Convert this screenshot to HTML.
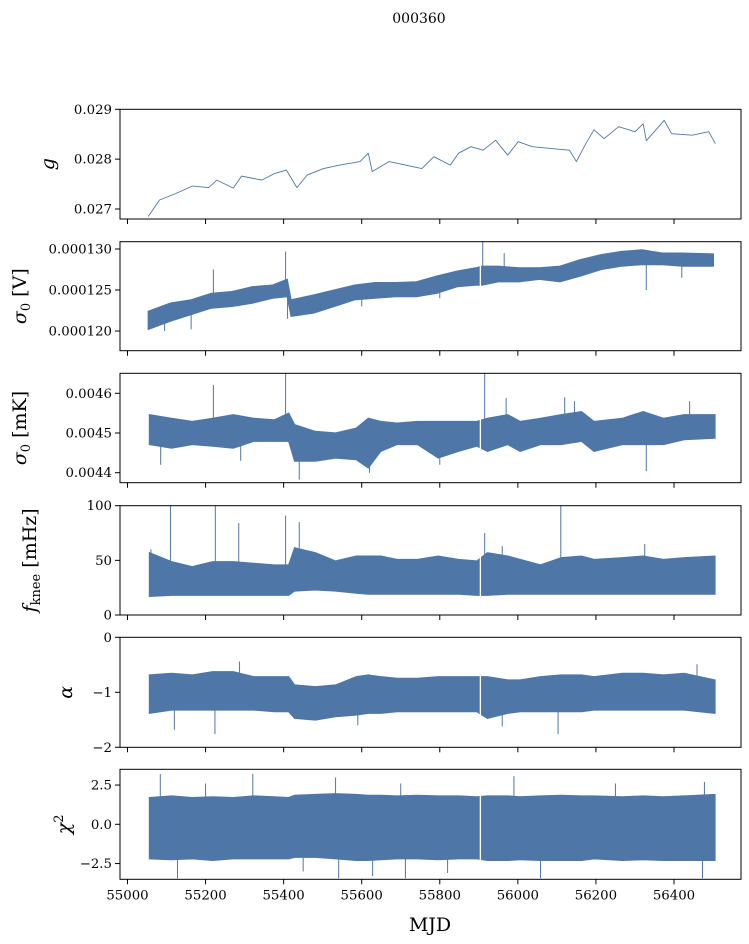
<!DOCTYPE html>
<html><head><meta charset="utf-8"><style>
html,body{margin:0;padding:0;background:#fff;}
svg{display:block;font-family:"DejaVu Serif","Liberation Serif",serif;}
</style></head><body>
<svg id="fig" width="749" height="944" viewBox="0 0 749 944" xmlns="http://www.w3.org/2000/svg">
<rect width="749" height="944" fill="#fff"/>
<text x="419" y="23" font-size="14" text-anchor="middle">000360</text>
<text x="430" y="931" font-size="19" text-anchor="middle">MJD</text>
<g id="plots"></g>
</svg>
<script>
// ---------- data ----------
const xTicks = [55000,55200,55400,55600,55800,56000,56200,56400];
const gMjd = [55053,55082,55124,55166,55208,55229,55271,55292,55344,55376,55407,55434,55460,55502,55544,55596,55617,55627,55670,55712,55754,55785,55827,55848,55880,55911,55943,55974,56001,56037,56090,56132,56150,56174,56195,56221,56258,56300,56321,56329,56353,56375,56394,56447,56489,56506];
const gVal = [0.02685,0.02718,0.02731,0.02746,0.02743,0.02758,0.02742,0.02766,0.02758,0.02771,0.02778,0.02743,0.02768,0.02781,0.02788,0.02795,0.02812,0.02775,0.02795,0.02788,0.02781,0.02805,0.02788,0.02812,0.02825,0.02818,0.02838,0.02808,0.02835,0.02825,0.02821,0.02818,0.02795,0.02831,0.02859,0.02841,0.02865,0.02855,0.02871,0.02837,0.02858,0.02878,0.02851,0.02848,0.02855,0.02831];

const mjdA = [55053,55110,55163,55215,55268,55320,55372,55409,55419,55477,55530,55582,55634,55687,55740,55792,55845,55892,55908,55950,56003,56055,56108,56160,56213,56265,56318,56370,56422,56501];
const hiV = [122.4,123.4,123.8,124.6,124.8,125.4,125.6,126.3,123.8,124.4,125.0,125.6,125.9,125.9,126.0,126.7,127.3,127.7,127.9,127.9,127.7,127.7,127.9,128.7,129.3,129.7,129.9,129.5,129.5,129.4];
const loV = [120.2,121.2,122.0,122.8,123.0,123.4,124.0,124.2,121.8,122.2,123.0,123.8,124.0,124.2,124.2,124.6,125.4,125.6,125.6,126.0,126.0,126.3,126.0,126.7,127.5,127.9,128.1,128.1,127.9,127.9];
const spikeMjdV = [55163,55220,55285,55405,55410,55910,55965,56329,56420,55095,55600,55800];
const spikeValV = [120.2,127.5,123.0,129.7,121.5,131.2,129.5,125.0,126.5,120.0,123.0,124.0];

const mjdB = [55056,55113,55166,55218,55271,55323,55376,55413,55428,55481,55533,55586,55617,55649,55691,55743,55796,55848,55895,55922,55974,56006,56058,56111,56163,56195,56268,56321,56373,56426,56505];
const hiK = [4.546,4.537,4.529,4.537,4.546,4.537,4.533,4.55,4.521,4.504,4.5,4.512,4.537,4.529,4.525,4.529,4.529,4.529,4.529,4.537,4.546,4.529,4.537,4.546,4.554,4.529,4.537,4.554,4.537,4.546,4.546];
const loK = [4.471,4.462,4.471,4.467,4.462,4.479,4.479,4.479,4.429,4.429,4.437,4.433,4.412,4.454,4.471,4.471,4.437,4.454,4.467,4.454,4.471,4.454,4.471,4.471,4.479,4.454,4.471,4.471,4.471,4.483,4.487];
const spikeMjdK = [55220,55405,55915,55440,56329,55970,55085,55290,56145,56120,56440,55620,55800];
const spikeValK = [4.621,4.66,4.66,4.383,4.404,4.588,4.42,4.43,4.58,4.59,4.58,4.40,4.42];

const hiF = [57.0,48.8,44.2,48.8,48.8,47.3,45.7,45.7,61.5,57.0,49.4,53.9,53.9,53.9,50.8,50.8,53.9,50.8,49.4,57.0,53.9,50.8,45.7,52.4,53.9,50.8,52.4,53.9,50.8,52.4,53.9];
const loF = [17,18,18,18,18,18,18,18,22,23,22,20,19,19,19,19,19,19,18,18,19,19,19,19,19,19,19,19,19,19,19];
const spikeMjdF = [55110,55225,55285,55405,55440,55915,56110,55060,55960,56325];
const spikeValF = [100,100,84,91,85,75,100,60,63,65];

const hiA = [-0.685,-0.655,-0.685,-0.625,-0.625,-0.716,-0.716,-0.716,-0.867,-0.898,-0.867,-0.716,-0.685,-0.716,-0.746,-0.746,-0.716,-0.716,-0.716,-0.716,-0.776,-0.776,-0.716,-0.685,-0.685,-0.716,-0.655,-0.655,-0.685,-0.655,-0.776];
const loA = [-1.382,-1.321,-1.321,-1.321,-1.321,-1.321,-1.352,-1.352,-1.473,-1.503,-1.443,-1.412,-1.382,-1.382,-1.352,-1.352,-1.352,-1.352,-1.352,-1.473,-1.382,-1.352,-1.352,-1.352,-1.352,-1.321,-1.321,-1.321,-1.321,-1.321,-1.382];
const spikeMjdA = [55224,55287,55120,56103,56459,55590,55960];
const spikeValA = [-1.76,-0.44,-1.68,-1.76,-0.49,-1.6,-1.62];

const hiC = [1.7,1.8,1.7,1.75,1.7,1.8,1.75,1.7,1.85,1.9,1.95,1.9,1.85,1.85,1.8,1.85,1.8,1.8,1.75,1.8,1.8,1.75,1.8,1.85,1.8,1.8,1.75,1.8,1.75,1.8,1.9];
const loC = [-2.2,-2.25,-2.2,-2.3,-2.2,-2.2,-2.2,-2.2,-2.1,-2.1,-2.2,-2.3,-2.3,-2.25,-2.2,-2.2,-2.25,-2.2,-2.2,-2.3,-2.3,-2.25,-2.3,-2.3,-2.3,-2.2,-2.3,-2.25,-2.3,-2.3,-2.3];
const spikeMjdC = [55084,55321,55990,56478,55533,55128,55541,55712,56058,56473,55628,55200,55700,56250,55450,55820];
const spikeValC = [3.2,3.2,3.07,2.7,2.98,-3.44,-3.44,-3.44,-3.44,-3.44,-3.3,2.6,2.6,2.6,-3.0,-3.1];

const gaps = [55904];

// ---------- layout ----------
const X0 = 120, X1 = 741;
function xs(v){ return 127.5 + (v - 55000) * 0.39035; }
const COLOR = "#4e76a6";
const NS = "http://www.w3.org/2000/svg";
const root = document.getElementById('plots');
function mk(tag, attrs, parent){
  const e = document.createElementNS(NS, tag);
  for (const k in attrs) e.setAttribute(k, attrs[k]);
  (parent || root).appendChild(e);
  return e;
}
function interp(arr, mj, v){
  if (v <= mj[0]) return arr[0];
  for (let i = 1; i < mj.length; i++) if (v <= mj[i]) {
    const t = (v - mj[i-1]) / (mj[i] - mj[i-1]); return arr[i-1] + t * (arr[i] - arr[i-1]);
  }
  return arr[arr.length-1];
}

const panels = [
  {name:'gain', top:109.3, bot:219, vTop:0.029, vBot:0.0267994, ticks:[0.027,0.028,0.029], labels:['0.027','0.028','0.029'], ylab:'g', ylx:48},
  {name:'sigma0-volts', top:241.7, bot:350.7, vTop:130.89, vBot:117.60, ticks:[120,125,130], labels:['0.000120','0.000125','0.000130'], ylab:'s0V', ylx:20, mj:mjdA, hi:hiV, lo:loV, sm:spikeMjdV, sv:spikeValV},
  {name:'sigma0-mk', top:373.3, bot:482.7, vTop:4.6504, vBot:4.3748, ticks:[4.4,4.5,4.6], labels:['0.0044','0.0045','0.0046'], ylab:'s0K', ylx:20, mj:mjdB, hi:hiK, lo:loK, sm:spikeMjdK, sv:spikeValK},
  {name:'fknee', top:505.7, bot:615, vTop:100, vBot:0, ticks:[0,50,100], labels:['0','50','100'], ylab:'fk', ylx:30, mj:mjdB, hi:hiF, lo:loF, sm:spikeMjdF, sv:spikeValF},
  {name:'alpha', top:637.3, bot:747.3, vTop:0, vBot:-2, ticks:[-2,-1,0], labels:['\u22122','\u22121','0'], ylab:'a', ylx:66, mj:mjdB, hi:hiA, lo:loA, sm:spikeMjdA, sv:spikeValA},
  {name:'chi2', top:769.3, bot:879.3, vTop:3.503, vBot:-3.503, ticks:[-2.5,0,2.5], labels:['\u22122.5','0.0','2.5'], ylab:'c', ylx:64, mj:mjdB, hi:hiC, lo:loC, sm:spikeMjdC, sv:spikeValC}
];

panels.forEach((p, idx) => {
  const ys = v => p.top + (p.vTop - v) / (p.vTop - p.vBot) * (p.bot - p.top);
  const g = mk('g', {});
  
  
  const clipId = 'clip' + idx;
  const cp = mk('clipPath', {id: clipId}, g);
  mk('rect', {x: X0, y: p.top, width: X1 - X0, height: p.bot - p.top}, cp);
  const dg = mk('g', {'clip-path': 'url(#' + clipId + ')'}, g);
  
  

  if (idx === 0) {
    const pts = gMjd.map((m, i) => xs(m).toFixed(1) + ',' + ys(gVal[i]).toFixed(1)).join(' ');
    const ln = mk('polyline', {points: pts, fill: 'none', stroke: COLOR, 'stroke-width': 0.9, 'stroke-linejoin': 'round'}, dg);
    
    
  } else {
    const up = p.mj.map((m, i) => xs(m).toFixed(1) + ',' + ys(p.hi[i]).toFixed(1));
    const dn = p.mj.map((m, i) => xs(m).toFixed(1) + ',' + ys(p.lo[i]).toFixed(1)).reverse();
    const band = mk('polygon', {points: up.concat(dn).join(' '), fill: COLOR, stroke: COLOR, 'stroke-width': 1.2, 'stroke-linejoin': 'miter'}, dg);
    
    
    p.sm.forEach((m, i) => {
      const mid = (interp(p.hi, p.mj, m) + interp(p.lo, p.mj, m)) / 2;
      const sp = mk('line', {x1: xs(m), x2: xs(m), y1: ys(mid), y2: ys(p.sv[i]), stroke: COLOR, 'stroke-width': 1}, dg);
      
      
    });
    gaps.forEach(m => {
      const gp = mk('line', {x1: xs(m), x2: xs(m), y1: p.top, y2: p.bot, stroke: '#fff', 'stroke-width': 1.3}, dg);
      
      
    });
  }
  const fr = mk('rect', {x: X0, y: p.top, width: X1 - X0, height: p.bot - p.top, fill: 'none', stroke: '#000', 'stroke-width': 1}, g);
  
  
  p.ticks.forEach((t, i) => {
    const y = ys(t);
    const tk = mk('line', {x1: X0 - 5, x2: X0, y1: y, y2: y, stroke: '#000', 'stroke-width': 1}, g);
    
    
    const tl = mk('text', {x: X0 - 8, y: y + 4.5, 'font-size': 13.3, 'text-anchor': 'end'}, g);
    tl.textContent = p.labels[i];
    
    
  });
  xTicks.forEach(t => {
    const x = xs(t);
    const tk = mk('line', {x1: x, x2: x, y1: p.bot, y2: p.bot + 5, stroke: '#000', 'stroke-width': 1}, g);
    
    
    if (idx === panels.length - 1) {
      const tl = mk('text', {x: x, y: p.bot + 20, 'font-size': 13.3, 'text-anchor': 'middle'}, g);
      tl.textContent = t;
      
      
    }
  });
  const cy = (p.top + p.bot) / 2;
  const yl = mk('text', {x: 0, y: 0, 'font-size': 19, 'text-anchor': 'middle', transform: 'translate(' + (p.ylx + 6) + ',' + cy + ') rotate(-90)'}, g);
  
  
  if (p.ylab === 'g') { yl.setAttribute('font-style', 'italic'); yl.textContent = 'g'; }
  else if (p.ylab === 's0V' || p.ylab === 's0K') {
    const a = mk('tspan', {'font-style': 'italic'}, yl); a.textContent = 'σ';
    const b = mk('tspan', {'font-size': 13, dy: 4}, yl); b.textContent = '0';
    const c = mk('tspan', {dy: -4}, yl); c.textContent = p.ylab === 's0V' ? ' [V]' : ' [mK]';
  } else if (p.ylab === 'fk') {
    const a = mk('tspan', {'font-style': 'italic'}, yl); a.textContent = 'f';
    const b = mk('tspan', {'font-size': 13, dy: 4}, yl); b.textContent = 'knee';
    const c = mk('tspan', {dy: -4}, yl); c.textContent = ' [mHz]';
  } else if (p.ylab === 'a') { yl.setAttribute('font-style', 'italic'); yl.textContent = 'α'; }
  else {
    const a = mk('tspan', {'font-style': 'italic'}, yl); a.textContent = 'χ';
    const b = mk('tspan', {'font-size': 13, dy: -7}, yl); b.textContent = '2';
  }
});
</script>
</body></html>
